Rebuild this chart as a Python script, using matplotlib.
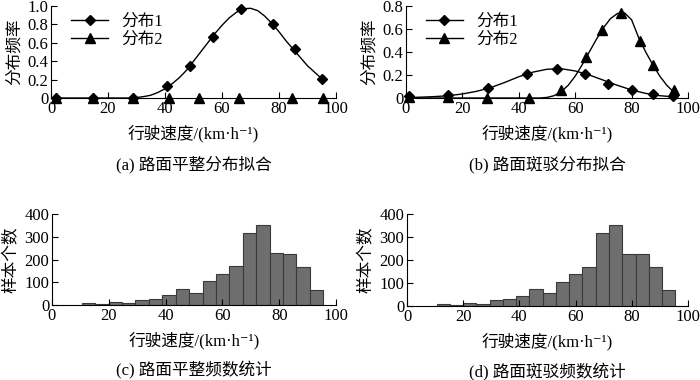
import numpy as np
import matplotlib
matplotlib.use("Agg")
import matplotlib.pyplot as plt
from matplotlib.lines import Line2D

plt.rcParams['font.family'] = ['Liberation Serif', 'Noto Sans CJK SC', 'DejaVu Serif']
plt.rcParams['font.size'] = 11

# (a) 路面平整分布拟合
a1_x = [1.8, 14.7, 28.6, 40.8, 48.8, 56.7, 66.7, 77.9, 85.5, 95.2]
a1_y = [0, 0, 0, 0.126, 0.35, 0.66, 0.968, 0.80, 0.53, 0.21]
a2_x = [1.8, 14.7, 28.6, 41.4, 51.8, 66.1, 84.4, 95.5]
a2_y = [0, 0, 0, 0, 0, 0, 0, 0]
a_curve_x = [0, 28, 30, 32.5, 35, 37.5, 40, 42.5, 45, 47.5, 50, 52.5, 55, 57.5, 60,
             62.5, 65, 67.5, 70, 72.5, 75, 77.5, 80, 82.5, 85, 87.5, 90, 92.5, 95]
a_curve_y = [0, 0, 0.005, 0.015, 0.03, 0.06, 0.10, 0.155, 0.22, 0.30, 0.40, 0.50, 0.60,
             0.70, 0.79, 0.87, 0.93, 0.97, 0.975, 0.95, 0.89, 0.81, 0.72, 0.62, 0.53,
             0.44, 0.35, 0.28, 0.21]

# (b) 路面斑驳分布拟合
b1_x = [1.2, 15.0, 29.2, 42.8, 53.5, 63.3, 71.6, 80.1, 87.5, 94.7]
b1_y = [0.014, 0.029, 0.087, 0.21, 0.25, 0.21, 0.124, 0.072, 0.035, 0.017]
b2_x = [1.2, 15.0, 28.6, 43.7, 54.9, 64.0, 69.5, 76.2, 83.1, 87.6, 94.9]
b2_y = [0.005, 0.005, 0, 0, 0.07, 0.355, 0.587, 0.743, 0.494, 0.283, 0.066]
b1_curve_x = [0, 5, 10, 15, 20, 25, 30, 35, 40, 45, 50, 55, 60, 65, 70, 75, 80, 85, 90, 95]
b1_curve_y = [0.004, 0.007, 0.012, 0.02, 0.035, 0.058, 0.09, 0.135, 0.185, 0.225, 0.25,
              0.255, 0.235, 0.20, 0.155, 0.11, 0.07, 0.04, 0.02, 0.01]
b2_curve_x = [0, 47.5, 50, 52.5, 55, 57.5, 60, 62.5, 65, 67.5, 70, 72.5, 75, 77.5, 80,
              82.5, 85, 87.5, 90, 92.5, 95]
b2_curve_y = [0, 0, 0.005, 0.02, 0.055, 0.11, 0.19, 0.29, 0.40, 0.51, 0.61, 0.69, 0.735,
              0.74, 0.68, 0.525, 0.40, 0.29, 0.19, 0.11, 0.05]

# (c)(d) 频数统计
bin_lo, bin_hi, n_bins = 10.5, 95.5, 18
c_counts = [9, 4, 12, 9, 22, 28, 44, 72, 54, 105, 136, 171, 318, 352, 227, 224, 168, 66]
d_counts = [10, 6, 15, 10, 25, 29, 45, 74, 57, 106, 138, 170, 319, 352, 228, 224, 170, 68]

x_ticks = [0, 20, 40, 60, 80, 100]
a_yticks = [0, 0.2, 0.4, 0.6, 0.8, 1.0]
a_ylabels = ['0', '0.2', '0.4', '0.6', '0.8', '1.0']
b_yticks = [0, 0.2, 0.4, 0.6, 0.8]
b_ylabels = ['0', '0.2', '0.4', '0.6', '0.8']
h_yticks = [0, 100, 200, 300, 400]

xlab = '行驶速度/(km·h⁻¹)'
captions = ['(a) 路面平整分布拟合', '(b) 路面斑驳分布拟合',
            '(c) 路面平整频数统计', '(d) 路面斑驳频数统计']

fig = plt.figure(figsize=(7, 3.8), dpi=100)
W, H = 700, 380


def make_ax(l, r, top, bot):
    return fig.add_axes([l / W, 1 - bot / H, (r - l) / W, (bot - top) / H])


axa = make_ax(51, 336, 6, 98)
axb = make_ax(406, 688, 6, 98)
axc = make_ax(52, 336, 214, 305)
axd = make_ax(407, 688, 214, 306)


def style(ax, yt, yl, ylabel, caption):
    for s in ['top', 'right']:
        ax.spines[s].set_visible(False)
    ax.set_xlim(0, 100)
    ax.set_ylim(yt[0], yt[-1])
    ax.set_xticks(x_ticks)
    ax.set_yticks(yt)
    ax.set_yticklabels(yl)
    ax.tick_params(direction='in', length=4, width=0.8, pad=2, labelsize=12)
    ax.set_ylabel(ylabel, fontsize=12, labelpad=3)
    ax.set_xlabel(xlab, fontsize=12, labelpad=6)
    ax.text(0.5, -0.72, caption, transform=ax.transAxes, ha='center', va='center',
            fontsize=12)


def legend(ax):
    h1 = Line2D([], [], color='black', lw=1, marker='D', ms=5.5)
    h2 = Line2D([], [], color='black', lw=1, marker='^', ms=6.5)
    ax.legend([h1, h2], ['分布1', '分布2'], loc='upper left', frameon=False,
              bbox_to_anchor=(0.03, 1.04), handlelength=2.2, borderpad=0.2,
              labelspacing=0.1, fontsize=12)


axa.plot(a_curve_x, a_curve_y, color='black', lw=1)
axa.plot(a1_x, a1_y, 'D', color='black', ms=5.5, clip_on=False, zorder=3)
axa.plot(a2_x, a2_y, '^', color='black', ms=6.5, clip_on=False, zorder=3)
style(axa, a_yticks, a_ylabels, '分布频率', captions[0])
legend(axa)

axb.plot(b1_curve_x, b1_curve_y, color='black', lw=1)
axb.plot(b2_curve_x, b2_curve_y, color='black', lw=1)
axb.plot(b1_x, b1_y, 'D', color='black', ms=5.5, clip_on=False, zorder=3)
axb.plot(b2_x, b2_y, '^', color='black', ms=6.5, clip_on=False, zorder=3)
style(axb, b_yticks, b_ylabels, '分布频率', captions[1])
legend(axb)

edges = np.linspace(bin_lo, bin_hi, n_bins + 1)
for ax, counts, cap in [(axc, c_counts, captions[2]), (axd, d_counts, captions[3])]:
    ax.bar(edges[:-1], counts, width=np.diff(edges), align='edge',
           color='#6e6e6e', edgecolor='#3a3a3a', linewidth=0.8)
    style(ax, h_yticks, [str(v) for v in h_yticks], '样本个数', cap)

fig.savefig('out.png', dpi=100)
